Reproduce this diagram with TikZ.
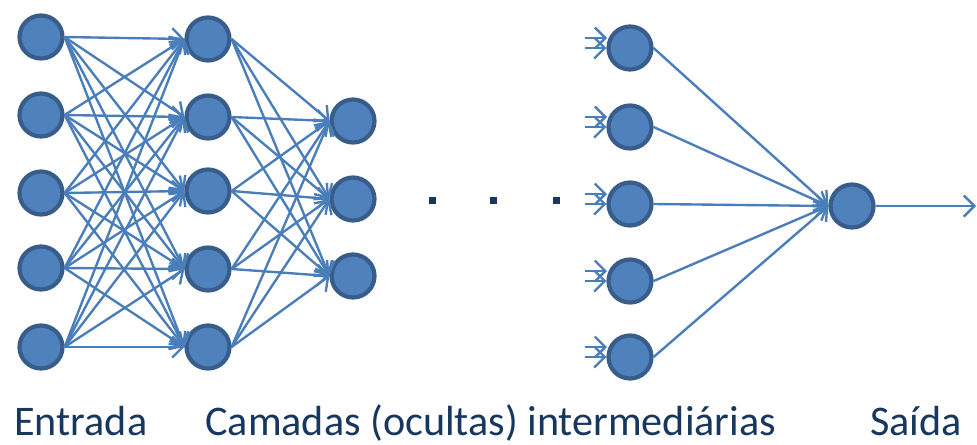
\documentclass[tikz,border=0pt]{standalone}
\usepackage{fontspec}
\setmainfont{Carlito}
\usetikzlibrary{arrows.meta}
\definecolor{nfill}{HTML}{4F81BD}
\definecolor{nborder}{HTML}{385D8A}
\definecolor{edgec}{HTML}{4A7EBB}
\definecolor{txt}{HTML}{17375E}
\begin{document}
\begin{tikzpicture}[x=0.02cm,y=-0.02cm,
  neuron/.style={circle,draw=nborder,fill=nfill,line width=2.4pt,minimum size=0.86cm,inner sep=0pt},
  conn/.style={draw=edgec,line width=1.35pt,-{Straight Barb[length=6pt,width=12pt,line width=1.35pt]}},
  label/.style={font=\fontsize{24}{28}\selectfont,text=txt,anchor=base west,inner sep=0pt},
  dotsq/.style={fill=txt,draw=none,minimum size=0.14cm,inner sep=0pt}]
\useasboundingbox (0,0) rectangle (977,444);
% layer 1
\foreach \i/\y in {1/37,2/115,3/193,4/268,5/347}
  \node[neuron] (a\i) at (41,\y) {};
% layer 2
\foreach \i/\y in {1/39,2/117,3/191,4/269,5/347}
  \node[neuron] (b\i) at (208,\y) {};
% layer 3
\foreach \i/\y in {1/121,2/199,3/276}
  \node[neuron] (c\i) at (353,\y) {};
% layer 4
\foreach \i/\y in {1/48,2/127,3/204,4/281,5/357}
  \node[neuron] (d\i) at (630,\y) {};
% output
\node[neuron] (o) at (852,206) {};
\coordinate (oend) at (976,206);
% dots
\node[dotsq] (p1) at (432,200) {};
\node[dotsq] (p2) at (493,200) {};
\node[dotsq] (p3) at (556,200) {};
% connections
\foreach \i in {1,...,5}
  \foreach \j in {1,...,5}
    \draw[conn] (a\i.east) -- (b\j.west);
\foreach \i in {1,...,5}
  \foreach \j in {1,...,3}
    \draw[conn] (b\i.east) -- (c\j.west);
\foreach \i in {1,...,5}
  \draw[conn] (d\i.east) -- (o.west);
\draw[conn] (o.east) -- (oend);
% short incoming arrows
\foreach \i/\y in {1/48,2/127,3/204,4/281,5/357}{
  \coordinate (u\i) at (585,\y-10);
  \coordinate (v\i) at (585,\y);
  \coordinate (ue\i) at (607,\y-10);
  \draw[conn] (u\i) -- (ue\i);
  \draw[conn] (v\i) -- (d\i.west);
}
% labels
\node[label] (l1) at (14,435) {Entrada};
\node[label] (l2) at (205,435) {Camadas (ocultas) intermediárias};
\node[label] (l3) at (870,435) {Saída};
\end{tikzpicture}
\end{document}
